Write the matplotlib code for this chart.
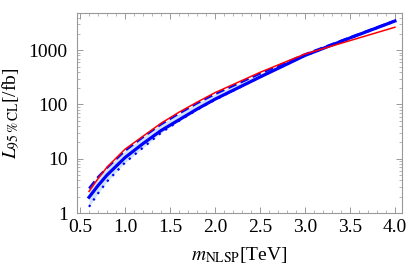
import numpy as np
import matplotlib
matplotlib.use("Agg")
import matplotlib.pyplot as plt
from matplotlib.ticker import FixedLocator, FixedFormatter, MultipleLocator, LogLocator, NullFormatter

plt.rcParams['font.family'] = ['Liberation Serif', 'DejaVu Serif']
plt.rcParams['mathtext.fontset'] = 'stix'

# masses in TeV
mass = [0.6, 0.7, 0.8, 1.0, 1.2, 1.4, 1.6, 1.8, 2.0, 2.5, 3.0, 3.5, 4.0]

# luminosity needed for 95% CL exclusion [/fb]
lumi_red = [2.5, 4.3, 7.0, 15, 26, 45, 72, 110, 165, 390, 850, 1500, 2650]
lumi_median = [1.95, 3.2, 5.0, 10.5, 19, 33, 52, 82, 125, 320, 800, 1680, 3450]
lumi_upper = [2.85, 4.6, 6.8, 14, 25, 43, 68, 105, 155, 370, 840, 1720, 3500]
lumi_lower = [1.3, 2.3, 3.8, 8.5, 16, 30, 50, 80, 122, 318, 795, 1670, 3400]

xticks = [0.5, 1.0, 1.5, 2.0, 2.5, 3.0, 3.5, 4.0]
yticks = [1, 10, 100, 1000]

fig = plt.figure(figsize=(4.07, 2.71), dpi=100)
ax = fig.add_axes([0.19, 0.214, 0.798, 0.739])

ax.fill_between(mass, lumi_lower, lumi_upper, color='#cfe3f7', lw=0)
ax.plot(mass, lumi_lower, color='blue', lw=1.6, ls=(0, (1, 2.5)))
ax.plot(mass, lumi_upper, color='blue', lw=1.6, ls=(0, (4, 2)))
ax.plot(mass, lumi_median, color='blue', lw=2.3)
ax.plot(mass, lumi_red, color='red', lw=1.1)

ax.set_yscale('log')
ax.set_xlim(0.47, 4.08)
ax.set_ylim(1, 4900)

ax.set_xticks(xticks)
ax.set_xticklabels(['%.1f' % v for v in xticks])
ax.xaxis.set_minor_locator(MultipleLocator(0.1))
ax.yaxis.set_major_locator(FixedLocator(yticks))
ax.yaxis.set_major_formatter(FixedFormatter([str(v) for v in yticks]))
ax.yaxis.set_minor_locator(LogLocator(base=10, subs=np.arange(2, 10)))
ax.yaxis.set_minor_formatter(NullFormatter())

for s in ax.spines.values():
    s.set_color('#999999')
    s.set_linewidth(0.8)
ax.tick_params(which='both', direction='in', top=True, right=True, color='#999999', labelsize=14)
ax.tick_params(axis='x', pad=4)
ax.tick_params(axis='y', pad=7)
ax.tick_params(which='major', length=4, width=0.7)
ax.tick_params(which='minor', length=2, width=0.5)

ax.set_xlabel(r'$m_{\rm NLSP}$[TeV]', fontsize=14, labelpad=7)
ax.set_ylabel(r'$L_{95\,\%\,{\rm CL}}$[/fb]', fontsize=14, labelpad=5)

fig.savefig('out.png', dpi=100)
